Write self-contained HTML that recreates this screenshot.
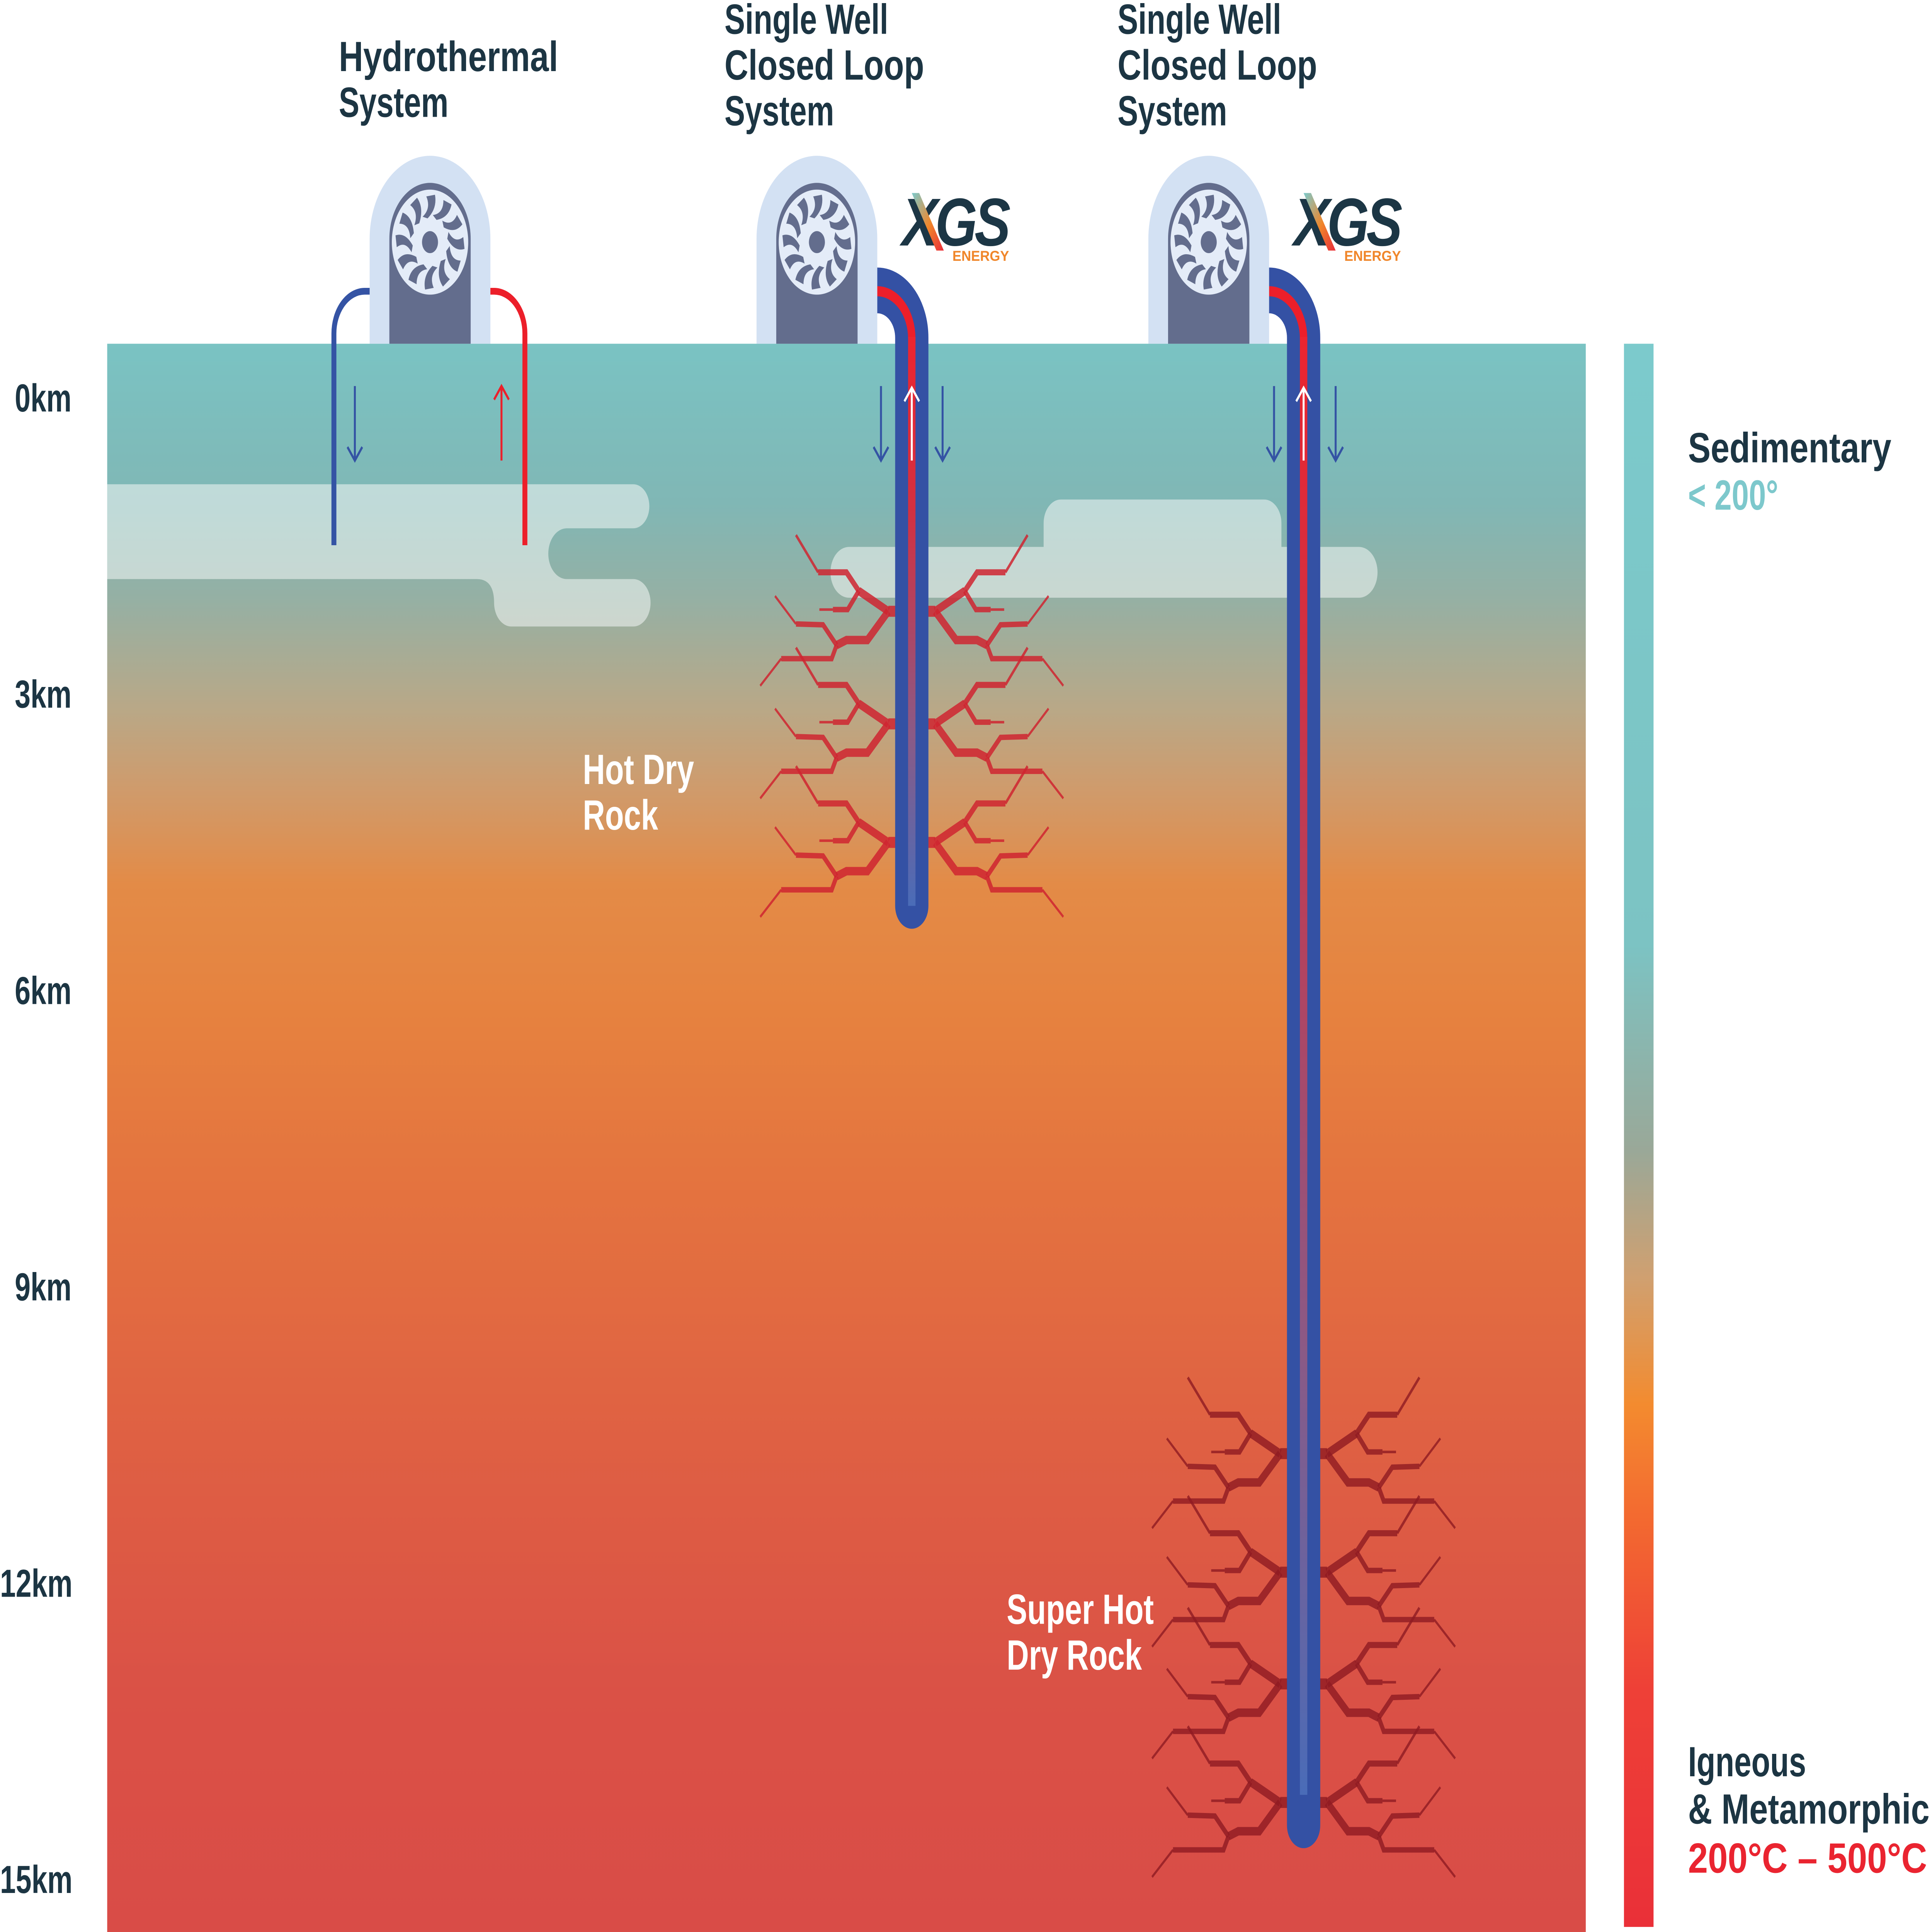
<!DOCTYPE html>
<html><head><meta charset="utf-8">
<style>
html,body{margin:0;padding:0;background:#fff;width:100%;height:100%;overflow:hidden;}
svg{display:block;width:100vw;height:100vh;position:fixed;left:0;top:0;}
text{font-family:"Liberation Sans",sans-serif;font-weight:bold;}
</style></head>
<body>
<svg xmlns="http://www.w3.org/2000/svg" width="100%" height="100%" viewBox="0 0 1568 1141" preserveAspectRatio="none">
<defs>
<linearGradient id="rock" x1="0" y1="203" x2="0" y2="1141" gradientUnits="userSpaceOnUse">
<stop offset="0" stop-color="#7ac3c3"/>
<stop offset="0.10" stop-color="#80b7b5"/>
<stop offset="0.16" stop-color="#95b0a4"/>
<stop offset="0.23" stop-color="#b9a887"/>
<stop offset="0.28" stop-color="#cf9b6c"/>
<stop offset="0.34" stop-color="#e38b47"/>
<stop offset="0.42" stop-color="#e6823f"/>
<stop offset="0.53" stop-color="#e4733f"/>
<stop offset="0.69" stop-color="#df6043"/>
<stop offset="0.85" stop-color="#da5146"/>
<stop offset="1" stop-color="#d94c47"/>
</linearGradient>
<linearGradient id="bar" x1="0" y1="203" x2="0" y2="1138" gradientUnits="userSpaceOnUse">
<stop offset="0" stop-color="#7ccacc"/>
<stop offset="0.38" stop-color="#7cc3c3"/>
<stop offset="0.51" stop-color="#9aa898"/>
<stop offset="0.59" stop-color="#d0a070"/>
<stop offset="0.67" stop-color="#f38b2f"/>
<stop offset="0.74" stop-color="#f36a30"/>
<stop offset="0.85" stop-color="#ee4037"/>
<stop offset="1" stop-color="#ea3038"/>
</linearGradient>
<linearGradient id="inner1" x1="0" y1="199" x2="0" y2="535" gradientUnits="userSpaceOnUse">
<stop offset="0" stop-color="#ec2530"/>
<stop offset="0.3" stop-color="#d33040"/>
<stop offset="0.7" stop-color="#8a5a86"/>
<stop offset="1" stop-color="#4a6cb8"/>
</linearGradient>
<linearGradient id="inner2" x1="0" y1="199" x2="0" y2="1060" gradientUnits="userSpaceOnUse">
<stop offset="0" stop-color="#ec2530"/>
<stop offset="0.2" stop-color="#d33040"/>
<stop offset="0.7" stop-color="#8a5a86"/>
<stop offset="1" stop-color="#4a6cb8"/>
</linearGradient>
<linearGradient id="xg" x1="0" y1="0" x2="1" y2="1">
<stop offset="0" stop-color="#7ccacc"/>
<stop offset="0.55" stop-color="#f0862a"/>
<stop offset="1" stop-color="#ea2e3a"/>
</linearGradient>
<g id="frac" fill="none" stroke-linejoin="miter" stroke-linecap="butt">
<path d="M12,0 L19,0" stroke-width="6.5"/>
<path d="M19,0 L43,-12" stroke-width="5"/>
<path d="M43,-12 L53,-23 L76,-23" stroke-width="3.6"/>
<path d="M76,-23 L94,-45" stroke-width="1.8"/>
<path d="M43,-12 L52,-1 L64,-1" stroke-width="3.2"/>
<path d="M64,-1 L75,-1" stroke-width="1.5"/>
<path d="M19,0 L36,17 L53,17 L61,20" stroke-width="5"/>
<path d="M61,20 L72,8 L94,7.5" stroke-width="3.2"/>
<path d="M94,7.5 L111,-9" stroke-width="1.5"/>
<path d="M61,20 L65,28 L106,28" stroke-width="3.2"/>
<path d="M106,28 L123,44" stroke-width="1.5"/>
</g>
<g id="frac2">
<use href="#frac"/>
<use href="#frac" transform="scale(-1,1)"/>
</g>
<g id="fan">
<circle r="31" fill="#e4ecf8"/>
<g fill="#636d8d">
<path id="bl" d="M-2,-14 Q6,-20 4,-28 L-3,-27 Q1,-20 -6,-15 Z"/>
<use href="#bl" transform="rotate(30)"/><use href="#bl" transform="rotate(60)"/><use href="#bl" transform="rotate(90)"/>
<use href="#bl" transform="rotate(120)"/><use href="#bl" transform="rotate(150)"/><use href="#bl" transform="rotate(180)"/>
<use href="#bl" transform="rotate(210)"/><use href="#bl" transform="rotate(240)"/><use href="#bl" transform="rotate(270)"/>
<use href="#bl" transform="rotate(300)"/><use href="#bl" transform="rotate(330)"/>
</g>
<circle r="11" fill="#e4ecf8"/>
<circle r="6.5" fill="#636d8d"/>
</g>
<g id="turb">
<path d="M-49,111 V49 A49,49 0 0 1 49,49 V111 Z" fill="#d3e1f3"/>
<path d="M-33,111 V49 A33,33 0 0 1 33,49 V111 Z" fill="#636d8d"/>
<use href="#fan" transform="translate(0,51)"/>
</g>
<g id="logo">
<text x="0" y="33" font-size="40" font-style="italic" fill="#1c3645" letter-spacing="-2" textLength="86" lengthAdjust="spacingAndGlyphs">XGS</text>
<path d="M8,2 L14,2 L34,36 L28,36 Z" fill="url(#xg)"/>
<text x="41" y="42" font-size="8.5" fill="#f0862a" textLength="46" lengthAdjust="spacingAndGlyphs">ENERGY</text>
</g>
</defs>

<rect x="87" y="203" width="1200" height="938" fill="url(#rock)"/>
<g opacity="0.55" fill="#f4f7f6">
<path d="M87,286 H514 A13,13 0 0 1 514,312 H460 A15,15 0 0 0 460,342 H514 A14,14 0 0 1 514,370 H415 A14,14 0 0 1 401,356 Q401,342 387,342 H87 Z"/>
</g>
<g opacity="0.55" fill="#f4f7f6">
<path d="M861,295 H1026 A14,14 0 0 1 1040,309 V323 H1103 A15,15 0 0 1 1103,353 H689 A15,15 0 0 1 689,323 H847 V309 A14,14 0 0 1 861,295 Z"/>
</g>

<rect x="1318" y="203" width="24" height="935" fill="url(#bar)"/>

<g stroke="#cf2530" stroke-opacity="0.85">
<use href="#frac2" transform="translate(740,361)"/>
<use href="#frac2" transform="translate(740,427.5)"/>
<use href="#frac2" transform="translate(740,497.5)"/>
</g>
<g stroke="#8e1a22" stroke-opacity="0.8">
<use href="#frac2" transform="translate(1058,858.5)"/>
<use href="#frac2" transform="translate(1058,928.5)"/>
<use href="#frac2" transform="translate(1058,994.5)"/>
<use href="#frac2" transform="translate(1058,1064.5)"/>
</g>

<path d="M302,172 H296 A25,25 0 0 0 271,197 V322" fill="none" stroke="#3453a4" stroke-width="4"/>
<path d="M396,172 H401 A25,25 0 0 1 426,197 V322" fill="none" stroke="#ec1f2a" stroke-width="4"/>
<g fill="none" stroke-width="1.6">
<path d="M288,228 V272 M282,264 L288,272 L294,264" stroke="#3453a4"/>
<path d="M407,272 V228 M401,236 L407,228 L413,236" stroke="#ec1f2a"/>
</g>

<path d="M705,171.5 H712 A28,28 0 0 1 740,199.5 V535" fill="none" stroke="#3451a4" stroke-width="27" stroke-linecap="round"/>
<path d="M705,172 H712 A28,28 0 0 1 740,200" fill="none" stroke="#ec1f2a" stroke-width="6"/>
<path d="M740,199 V535" stroke="url(#inner1)" stroke-width="6"/>
<path d="M1023,171.5 H1030 A28,28 0 0 1 1058,199.5 V1078" fill="none" stroke="#3451a4" stroke-width="27" stroke-linecap="round"/>
<path d="M1023,172 H1030 A28,28 0 0 1 1058,200" fill="none" stroke="#ec1f2a" stroke-width="6"/>
<path d="M1058,199 V1060" stroke="url(#inner2)" stroke-width="6"/>

<g fill="none" stroke-width="1.6">
<path d="M715,228 V272 M709,264 L715,272 L721,264" stroke="#3453a4"/>
<path d="M765,228 V272 M759,264 L765,272 L771,264" stroke="#3453a4"/>
<path d="M740,272 V229 M734,237 L740,229 L746,237" stroke="#ffffff"/>
<path d="M1034,228 V272 M1028,264 L1034,272 L1040,264" stroke="#3453a4"/>
<path d="M1084,228 V272 M1078,264 L1084,272 L1090,264" stroke="#3453a4"/>
<path d="M1058,272 V229 M1052,237 L1058,229 L1064,237" stroke="#ffffff"/>
</g>

<use href="#turb" transform="translate(349,92)"/>
<use href="#turb" transform="translate(663,92)"/>
<use href="#turb" transform="translate(981,92)"/>

<use href="#logo" transform="translate(732,112)"/>
<use href="#logo" transform="translate(1050,112)"/>

<g font-size="25" fill="#1c3543">
<text x="275" y="42" textLength="178" lengthAdjust="spacingAndGlyphs">Hydrothermal</text>
<text x="275" y="69">System</text>
<text x="588" y="20">Single Well</text>
<text x="588" y="47" textLength="162" lengthAdjust="spacingAndGlyphs">Closed Loop</text>
<text x="588" y="74">System</text>
<text x="907" y="20">Single Well</text>
<text x="907" y="47" textLength="162" lengthAdjust="spacingAndGlyphs">Closed Loop</text>
<text x="907" y="74">System</text>
</g>

<g font-size="23" fill="#1c3543">
<text x="12" y="243">0km</text>
<text x="12" y="418">3km</text>
<text x="12" y="593">6km</text>
<text x="12" y="768">9km</text>
<text x="0" y="943">12km</text>
<text x="0" y="1118">15km</text>
</g>

<g font-size="25" fill="#ffffff">
<text x="473" y="463">Hot Dry</text>
<text x="473" y="490">Rock</text>
<text x="817" y="959">Super Hot</text>
<text x="817" y="986">Dry Rock</text>
</g>

<g font-size="25">
<text x="1370" y="273" fill="#1c3543" textLength="165" lengthAdjust="spacingAndGlyphs">Sedimentary</text>
<text x="1370" y="301" fill="#7dc8cc">&lt; 200°</text>
<text x="1370" y="1049" fill="#1c3543">Igneous</text>
<text x="1370" y="1077" fill="#1c3543" textLength="196" lengthAdjust="spacingAndGlyphs">&amp; Metamorphic</text>
<text x="1370" y="1106" fill="#ea2430" textLength="194" lengthAdjust="spacingAndGlyphs">200°C – 500°C</text>
</g>
</svg>
</body></html>
